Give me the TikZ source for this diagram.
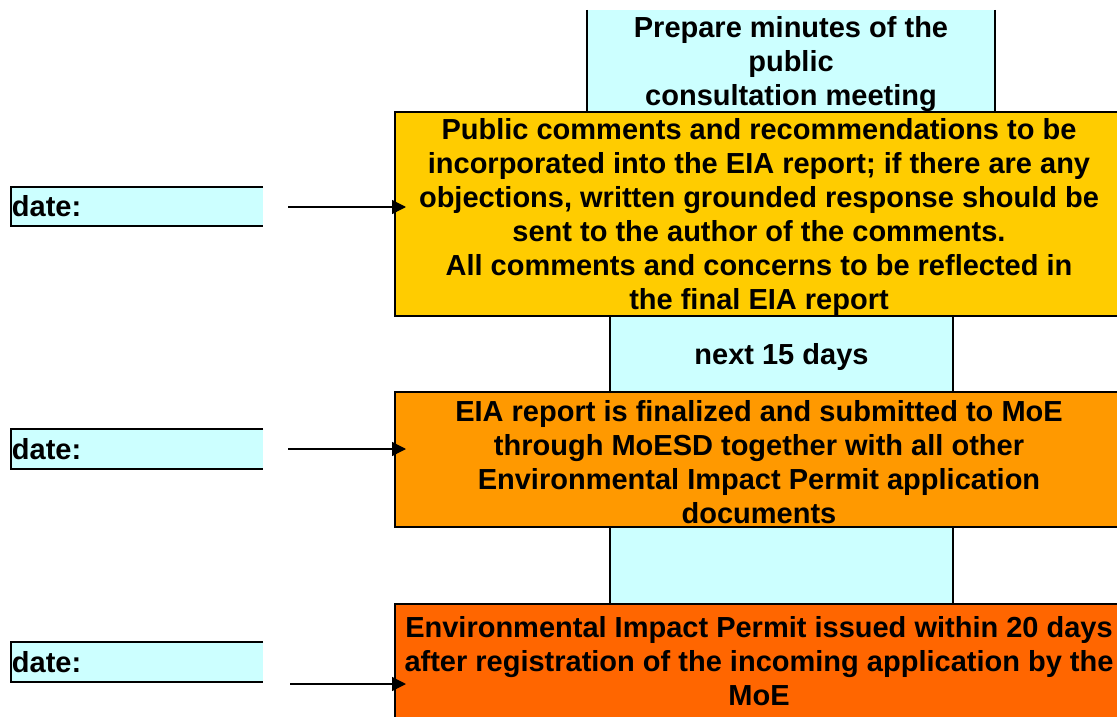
\documentclass[tikz,border=0pt]{standalone}
\usepackage{fontspec}
\setmainfont{Liberation Sans}
\usetikzlibrary{arrows.meta}
\definecolor{paleCyan}{HTML}{CCFFFF}
\definecolor{stepYellow}{HTML}{FFCC00}
\definecolor{stepOrange}{HTML}{FF9900}
\definecolor{stepRed}{HTML}{FF6600}
\begin{document}
\begin{tikzpicture}[x=1pt,y=-1pt,
  every node/.style={font=\bfseries\fontsize{29}{34}\selectfont, inner sep=0pt, align=center},
  cyanband/.style={fill=paleCyan, minimum width=#1},
  stepbox/.style={fill=#1, draw=black, line width=2pt, minimum width=728pt},
  boxtext/.style={yshift=-3pt},
  sideline/.style={draw=black, line width=1.6pt},
  datebox/.style={fill=paleCyan, text width=250pt, inner xsep=1pt, align=left, minimum height=39pt},
  dateedge/.style={draw=black, line width=2pt},
  flow/.style={draw=black, line width=1.5pt, -{Triangle[length=14pt,width=14pt]}}
]
\useasboundingbox (0,0) rectangle (1117,717);

% light cyan bands between the steps (only side borders)
\node[cyanband=408pt, minimum height=102pt] (prep) at (791,61) {};
\node[cyanband=343pt, minimum height=76pt] (days) at (781.5,354) {};
\node[cyanband=343pt, minimum height=77pt] (gap) at (781.5,565.5) {};
\draw[sideline] (prep.north west) -- (prep.south west) (prep.north east) -- (prep.south east);
\draw[sideline] (days.north west) -- (days.south west) (days.north east) -- (days.south east);
\draw[sideline] (gap.north west) -- (gap.south west) (gap.north east) -- (gap.south east);
\node[boxtext] (preptext) at (prep.center) {Prepare minutes of the\\public\\consultation meeting};
\node[boxtext] (daystext) at (days.center) {next 15 days};

% main steps
\node[stepbox=stepYellow, minimum height=204pt] (pub) at (759,214) {};
\node[stepbox=stepOrange, minimum height=135pt] (eia) at (759,459.5) {};
\node[stepbox=stepRed, minimum height=120pt] (permit) at (759,664) {};
\node[boxtext] (pubtext) at (pub.center)
  {Public comments and recommendations to be\\
   incorporated into the EIA report; if there are any\\
   objections, written grounded response should be\\
   sent to the author of the comments.\\
   All comments and concerns to be reflected in\\
   the final EIA report};
\node[boxtext] (eiatext) at (eia.center)
  {EIA report is finalized and submitted to MoE\\
   through MoESD together with all other\\
   Environmental Impact Permit application\\
   documents};
\node[boxtext] (permittext) at ([yshift=6pt]permit.center)
  {Environmental Impact Permit issued within 20 days\\
   after registration of the incoming application by the\\
   MoE};

% date fields
\node[datebox] (d1) at (137,206.5) {date:};
\node[datebox] (d2) at (137,449) {date:};
\node[datebox] (d3) at (137,662) {date:};
\foreach \d in {d1,d2,d3}
  \draw[dateedge] (\d.north east) -- (\d.north west) -- (\d.south west) -- (\d.south east);

% arrows from the date fields to the steps
\coordinate (a1) at (288,207);
\coordinate (a2) at (288,449);
\coordinate (a3) at (290,684);
\draw[flow] (a1) -- ([xshift=12pt]pub.west |- a1);
\draw[flow] (a2) -- ([xshift=12pt]eia.west |- a2);
\draw[flow] (a3) -- ([xshift=12pt]permit.west |- a3);
\end{tikzpicture}
\end{document}
